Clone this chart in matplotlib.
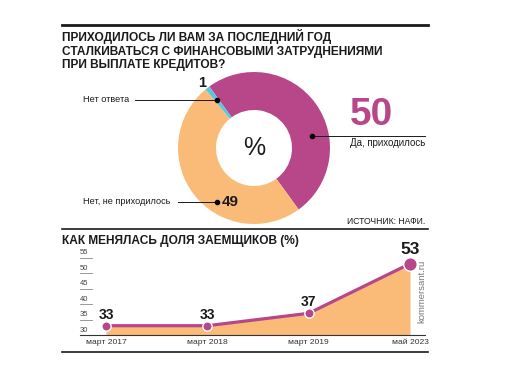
import numpy as np
import matplotlib
matplotlib.use('Agg')
import matplotlib.pyplot as plt

# данные
pie_labels = ['Да, приходилось', 'Нет, не приходилось', 'Нет ответа']
pie_values = [50, 49, 1]
years = ['март 2017', 'март 2018', 'март 2019', 'май 2023']
share = [33, 33, 37, 53]
yticks = [30, 35, 40, 45, 50, 55]

MAG = '#b8478a'
ORA = '#fbbb78'
CYA = '#5cc6dc'
INK = '#1a1a1a'

plt.rcParams['font.family'] = ['Liberation Sans', 'DejaVu Sans']

fig = plt.figure(figsize=(5.12, 3.84), dpi=100)

# бублик
cx, cy, R = 254, 148, 76
pax = fig.add_axes([(cx - R) / 512, (384 - cy - R) / 384, 2 * R / 512, 2 * R / 384])
pax.pie(pie_values, colors=[MAG, ORA, CYA], startangle=126, counterclock=False,
        radius=1, wedgeprops=dict(width=0.5, linewidth=0))
pax.set_xlim(-1, 1)
pax.set_ylim(-1, 1)
pax.axis('off')
pax.text(0, 0, '%', fontsize=18, ha='center', va='center', color=INK)

# слой для подписей поверх всего
bg = fig.add_axes([0, 0, 1, 1])
bg.set_xlim(0, 512)
bg.set_ylim(384, 0)
bg.axis('off')
bg.set_zorder(5)

# линии-разделители
bg.plot([62, 428], [25, 25], color=INK, lw=2)
bg.plot([62, 428], [229, 229], color=INK, lw=1.2)
bg.plot([62, 428], [352, 352], color=INK, lw=1.2)

bg.text(62, 50, 'ПРИХОДИЛОСЬ ЛИ ВАМ ЗА ПОСЛЕДНИЙ ГОД\nСТАЛКИВАТЬСЯ С ФИНАНСОВЫМИ ЗАТРУДНЕНИЯМИ\nПРИ ВЫПЛАТЕ КРЕДИТОВ?',
        fontsize=8.6, fontweight='bold', color=INK, va='center', ha='left', linespacing=1.15)


def ring(ang, r):
    a = np.deg2rad(ang)
    return cx + R * r * np.cos(a), cy - R * r * np.sin(a)


# Нет ответа
x, y = ring(127.8, 0.8)
bg.plot([135, x], [y, y], color=INK, lw=0.7)
bg.plot(x, y, 'o', color='black', ms=3)
bg.text(83, y, pie_labels[2], fontsize=6.6, va='center', ha='left', color=INK)
bg.text(202, 83, str(pie_values[2]), fontsize=10.5, fontweight='bold', ha='center', va='center', color=INK)

# Да
x, y = ring(12, 0.78)
bg.plot([x, 425], [y, y], color=INK, lw=0.7)
bg.plot(x, y, 'o', color='black', ms=3)
bg.text(371, y - 3, str(pie_values[0]), fontsize=28, fontweight='bold', color=MAG, ha='center', va='bottom')
bg.text(425, y + 2, pie_labels[0], fontsize=7, ha='right', va='top', color=INK)

# Нет
x, y = ring(235, 0.86)
bg.plot([178, x], [y, y], color=INK, lw=0.7)
bg.plot(x, y, 'o', color='black', ms=3)
bg.text(83, y, pie_labels[1], fontsize=6.6, va='center', ha='left', color=INK)
bg.text(x + 5, y, str(pie_values[1]), fontsize=11, fontweight='bold', va='center', ha='left', color=INK)

bg.text(425, 222, 'ИСТОЧНИК: НАФИ.', fontsize=6.2, ha='right', va='center', color=INK)

# нижний график
bg.text(62, 241, 'КАК МЕНЯЛАСЬ ДОЛЯ ЗАЕМЩИКОВ (%)', fontsize=8.6, fontweight='bold',
        ha='left', va='center', color=INK)

x0, x1, ybot, ytop = 80, 425, 335, 245
lax = fig.add_axes([x0 / 512, (384 - ybot) / 384, (x1 - x0) / 512, (ybot - ytop) / 384])
xs = np.arange(len(share))
ppx = (410 - 106) / 3
lax.set_xlim(-(106 - x0) / ppx, 3 + (x1 - 410) / ppx)
lax.set_ylim(30, 30 + (ybot - ytop) / 3.1)
lax.fill_between(xs, share, 30, color=ORA, lw=0)
lax.plot(xs, share, color=MAG, lw=2.3, zorder=3)
lax.scatter(xs[:-1], share[:-1], s=45, color=MAG, edgecolor='white', lw=1, zorder=4)
lax.scatter(xs[-1:], share[-1:], s=95, color=MAG, edgecolor='white', lw=1, zorder=4)
for i, v in enumerate(share):
    big = i == len(share) - 1
    lax.annotate(str(v), (i, v), xytext=(0, 4.5 if big else 3), textcoords='offset points',
                 ha='center', va='bottom', fontsize=12.5 if big else 10, fontweight='bold', color=INK)

yt = lax.get_yaxis_transform()
for v in yticks:
    lax.plot([0, 0.035], [v, v], transform=yt, color='#888888', lw=0.6, clip_on=False)
    lax.text(0.0, v + 0.4, str(v), transform=yt, fontsize=5.5, color='#444444', ha='left', va='bottom')

for s in ['top', 'right', 'left']:
    lax.spines[s].set_visible(False)
lax.spines['bottom'].set_color('#333333')
lax.spines['bottom'].set_linewidth(0.8)
lax.set_yticks([])
lax.set_xticks(xs)
lax.set_xticklabels(years, fontsize=6.1, color='#333333')
lax.tick_params(axis='x', length=0, pad=3)
lax.patch.set_alpha(0)

bg.text(422, 291, 'kommersant.ru', rotation=90, fontsize=6.8, color='#777777', ha='center', va='center')

fig.savefig('out.png', dpi=100)
